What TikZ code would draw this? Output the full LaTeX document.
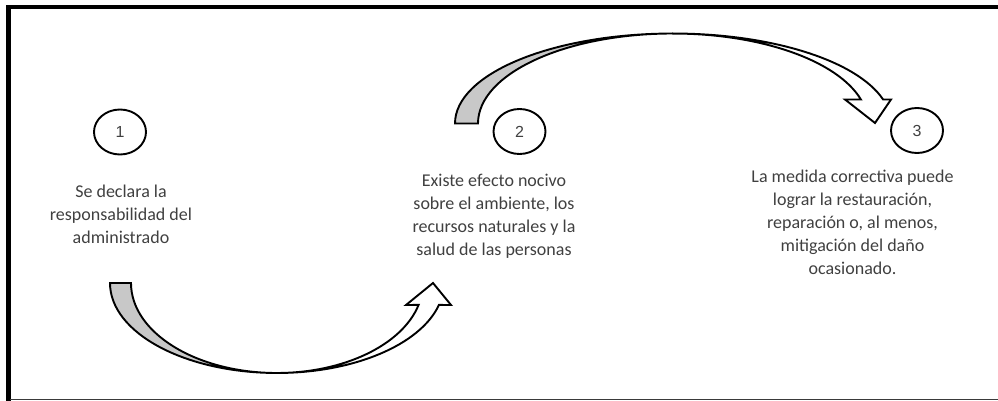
\documentclass[tikz,border=0pt]{standalone}
\usepackage{fontspec}
\setmainfont{Carlito}
\newfontfamily\numfont{Liberation Sans}
\usetikzlibrary{shapes.geometric}
\definecolor{txtgray}{HTML}{404040}
\definecolor{backgray}{HTML}{C8C8C8}
\definecolor{framegray}{HTML}{3A3A3A}
\tikzset{
  numcirc/.style={draw=black, line width=1.9pt, ellipse, minimum width=52pt, minimum height=45pt,
    inner sep=0pt, font=\numfont\fontsize{16}{19}\selectfont, text=txtgray},
  desc/.style={anchor=base, inner sep=0pt, font=\fontsize{18}{23}\selectfont, text=txtgray},
  bandline/.style={draw=black, line width=1.9pt},
}
\begin{document}
\begin{tikzpicture}[x=1pt,y=-1pt]
\useasboundingbox (0,0) rectangle (998,401);
% frame
\draw[line width=4.5pt] (8.7,401) -- (8.7,7) -- (998,7);
\draw[line width=1.3pt, framegray] (10,399.3) -- (998,399.3);

% circles
\node[numcirc] (c1) at (120,132) {1};
\node[numcirc] (c2) at (519.5,131.5) {2};
\node[numcirc] (c3) at (917,130.5) {3};

% texts
\node[desc] (t1) at (121,197) {\begin{tabular}[t]{@{}c@{}}Se declara la\\responsabilidad del\\administrado\end{tabular}};
\node[desc] (t2) at (494,186.5) {\begin{tabular}[t]{@{}c@{}}Existe efecto nocivo\\sobre el ambiente, los\\recursos naturales y la\\salud de las personas\end{tabular}};
\node[desc] (t3) at (852.5,182.5) {\begin{tabular}[t]{@{}c@{}}La medida correctiva puede\\lograr la restauración,\\reparación o, al menos,\\mitigación del daño\\ocasionado.\end{tabular}};

% bottom curved arrow (1 -> 2)
\draw[bandline, fill=backgray] (110,283) arc[start angle=180, end angle=90, x radius=167, y radius=90]
  arc[start angle=90, end angle=180, x radius=146, y radius=90] -- cycle;
\draw[bandline, fill=white] (277,373) arc[start angle=90, end angle=14.1, x radius=167, y radius=90]
  -- (451,305) -- (433,283) -- (406,305) -- (418.6,304.9)
  arc[start angle=14.1, end angle=90, x radius=146, y radius=90] -- cycle;

% top curved arrow (2 -> 3)
\draw[bandline, fill=backgray] (455,123.5) arc[start angle=180, end angle=270, x radius=218, y radius=90]
  arc[start angle=270, end angle=180, x radius=195, y radius=90] -- cycle;
\draw[bandline, fill=white] (673,33.5) arc[start angle=270, end angle=344.5, x radius=218, y radius=90]
  -- (891,99.5) -- (875,123) -- (845,99.5) -- (860.9,99.5)
  arc[start angle=344.5, end angle=270, x radius=195, y radius=90] -- cycle;
\end{tikzpicture}
\end{document}
